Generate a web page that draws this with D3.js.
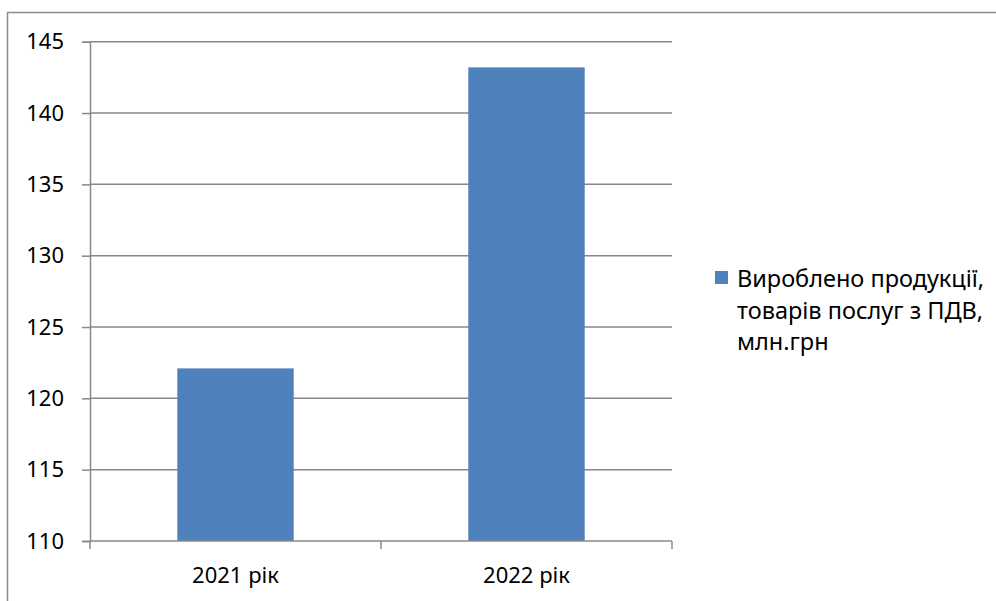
<!DOCTYPE html>
<html>
<head>
<meta charset="utf-8">
<script src="https://cdn.jsdelivr.net/npm/d3@7"></script>
<style>
  html, body { margin: 0; padding: 0; background: #fff; }
  svg { display: block; }
  text { font-family: "Noto Sans", "Open Sans", sans-serif; fill: #000; }
</style>
</head>
<body>
<svg id="chart" width="996" height="601"></svg>
<script>
// Output of goods and services, incl. VAT, million UAH
const categories = ["2021 рік", "2022 рік"];
const values = [122.1, 143.2];
const yTicks = [110, 115, 120, 125, 130, 135, 140, 145];
const legendLines = ["Вироблено продукції,", "товарів послуг з ПДВ,", "млн.грн"];

const svg = d3.select("#chart");
const barColor = "#4F81BD";
const gridColor = "#888888";

// outer chart frame
svg.append("rect")
  .attr("x", 7.5).attr("y", 12.5)
  .attr("width", 1000).attr("height", 600)
  .attr("fill", "none").attr("stroke", "#8c8c8c").attr("stroke-width", 1.5);

const plot = { left: 90, right: 672, top: 41.7, bottom: 541 };

const y = d3.scaleLinear().domain([110, 145]).range([plot.bottom, plot.top]);
const x = d3.scaleBand().domain(categories).range([plot.left, plot.right]).paddingInner(0.6).paddingOuter(0.3);

// horizontal gridlines
svg.append("g").selectAll("line").data(yTicks.filter(t => t !== 110)).join("line")
  .attr("x1", plot.left).attr("x2", plot.right)
  .attr("y1", d => y(d)).attr("y2", d => y(d))
  .attr("stroke", gridColor).attr("stroke-width", 1.5);

// bars
svg.append("g").selectAll("rect").data(values).join("rect")
  .attr("x", (d, i) => x(categories[i]))
  .attr("width", x.bandwidth())
  .attr("y", d => y(d))
  .attr("height", d => y(110) - y(d))
  .attr("fill", barColor);

// y axis
const yAxis = d3.axisLeft(y).tickValues(yTicks).tickSize(8).tickPadding(18).tickFormat(d3.format("d"));
const gy = svg.append("g").attr("transform", `translate(${plot.left},0)`).call(yAxis);
gy.select(".domain").attr("stroke", gridColor).attr("stroke-width", 1.5);
gy.selectAll(".tick line").attr("stroke", gridColor).attr("stroke-width", 1.5);
gy.selectAll(".tick text").attr("font-size", 22).attr("font-family", "Noto Sans").attr("fill", "#000");

// x axis
const xAxis = d3.axisBottom(x).tickSize(0).tickPadding(26);
const gx = svg.append("g").attr("transform", `translate(0,${plot.bottom})`).call(xAxis);
gx.select(".domain").attr("stroke", gridColor).attr("stroke-width", 1.5)
  .attr("d", `M${plot.left},0H${plot.right}`);
gx.selectAll(".tick text").attr("font-size", 22).attr("font-family", "Noto Sans").attr("fill", "#000");

// category separator ticks below the axis
const sepX = [plot.left, plot.left + (plot.right - plot.left) / 2, plot.right];
gx.append("g").selectAll("line").data(sepX).join("line")
  .attr("x1", d => d).attr("x2", d => d)
  .attr("y1", 0).attr("y2", 8)
  .attr("stroke", gridColor).attr("stroke-width", 1.5);

// legend
const lg = svg.append("g").attr("transform", "translate(715,271)");
lg.append("rect").attr("width", 13).attr("height", 13).attr("fill", barColor);
lg.append("text")
  .attr("font-size", 23.5)
  .selectAll("tspan").data(legendLines).join("tspan")
  .attr("x", 22).attr("y", (d, i) => 16 + i * 31.5)
  .text(d => d);
</script>
</body>
</html>
